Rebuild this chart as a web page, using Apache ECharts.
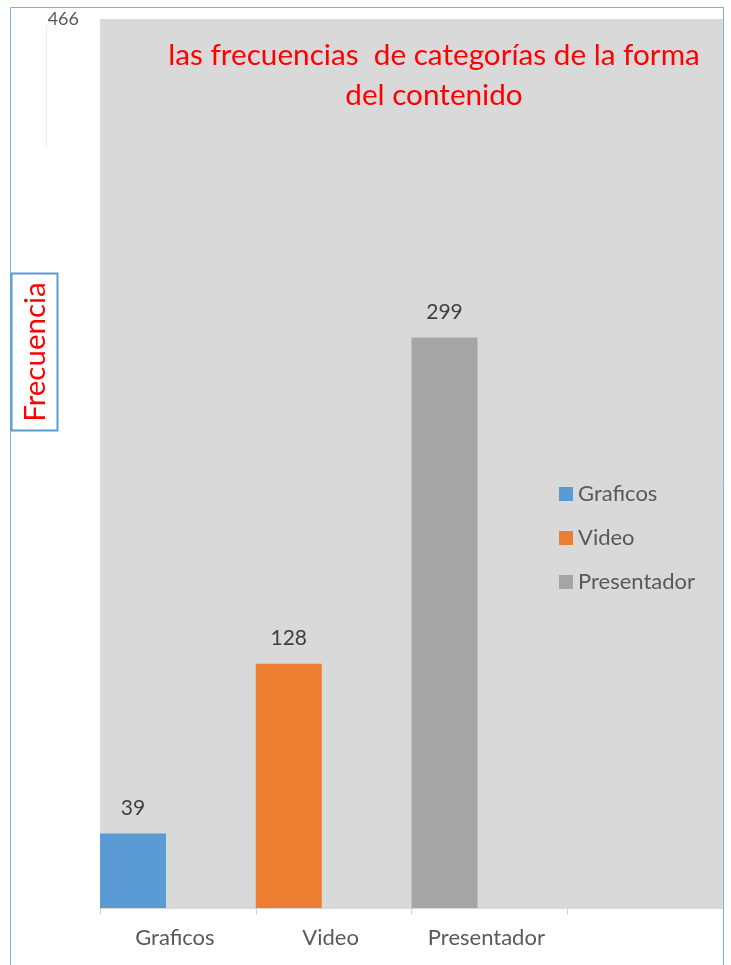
<!DOCTYPE html>
<html>
<head>
<meta charset="utf-8">
<script src="https://cdn.jsdelivr.net/npm/echarts@6/dist/echarts.min.js"></script>
<style>
html,body{margin:0;padding:0;background:#fff;}
#chart{width:731px;height:965px;}
</style>
</head>
<body>
<div id="chart"></div>
<script>
var categories = ['Graficos', 'Video', 'Presentador', ''];
var seriesNames = ['Graficos', 'Video', 'Presentador'];
var graficosValues = [39, '-', '-', '-'];
var videoValues = ['-', 128, '-', '-'];
var presentadorValues = ['-', '-', 299, '-'];
var yMax = 466;
var titleText = 'las frecuencias  de categorías de la forma\ndel contenido';
var yAxisTitle = 'Frecuencia';

var colors = ['#5b9bd5', '#ed7d31', '#a5a5a5'];
var font = 'Lato, "Open Sans", sans-serif';
var chart = echarts.init(document.getElementById('chart'), null, {renderer: 'canvas'});

function barSeries(name, data, color) {
  return {
    name: name, type: 'bar', stack: 'real', data: data,
    barWidth: 66, barGap: 0,
    itemStyle: {color: color},
    label: {show: true, position: 'top', distance: 15, color: '#404040', fontSize: 21, fontFamily: font}
  };
}

chart.setOption({
  backgroundColor: '#ffffff',
  animation: false,
  title: {
    text: titleText, left: 429, top: 30, textAlign: 'center',
    textStyle: {color: '#ff0000', fontSize: 29.7, fontWeight: 'normal', fontFamily: font, lineHeight: 40}
  },
  legend: {
    orient: 'vertical', left: 554, top: 478,
    itemWidth: 14, itemHeight: 14, itemGap: 22,
    data: seriesNames,
    textStyle: {color: '#595959', fontSize: 22, fontFamily: font, lineHeight: 22},
    icon: 'rect'
  },
  grid: {left: 100, right: 8, top: 19, bottom: 57, show: true, backgroundColor: '#d9d9d9', borderWidth: 0},
  xAxis: {
    type: 'category', data: categories, boundaryGap: true,
    axisLine: {show: true, lineStyle: {color: '#d9d9d9', width: 1}},
    axisTick: {show: true, length: 7, lineStyle: {color: '#d0d0d0'}},
    axisLabel: {color: '#595959', fontSize: 22, fontFamily: font, margin: 19, padding: [0, 6, 0, 0]}
  },
  yAxis: {
    type: 'value', min: 0, max: yMax, interval: yMax,
    splitLine: {show: false}, axisLine: {show: false}, axisTick: {show: false},
    axisLabel: {
      color: '#595959', fontSize: 18, fontFamily: font, margin: 21,
      formatter: function (v) { return v === yMax ? String(v) : ''; }
    }
  },
  graphic: [
    {type: 'rect', shape: {x: 10.5, y: 7.5, width: 713, height: 1000}, style: {fill: 'none', stroke: '#7fb0e0', lineWidth: 1}, z: 100},
    {type: 'line', shape: {x1: 46.5, y1: 25, x2: 46.5, y2: 148}, style: {stroke: '#eeeeee', lineWidth: 1}, z: 50},
    {type: 'rect', shape: {x: 11.5, y: 273.5, width: 46, height: 157}, style: {fill: '#ffffff', stroke: '#5b9bd5', lineWidth: 2}, z: 101},
    {type: 'text', x: 35, y: 352, rotation: Math.PI / 2, z: 102,
      style: {text: yAxisTitle, fill: '#ff0000', fontSize: 29.5, fontFamily: font, textAlign: 'center', textVerticalAlign: 'middle'}}
  ],
  series: [
    barSeries(seriesNames[0], graficosValues, colors[0]),
    barSeries(seriesNames[1], videoValues, colors[1]),
    barSeries(seriesNames[2], presentadorValues, colors[2]),
    {name: 'spacer', type: 'bar', stack: 'spacer', data: ['-', '-', '-', '-'], barWidth: 89.75, barGap: 0, silent: true, itemStyle: {color: 'rgba(0,0,0,0)'}}
  ]
});
</script>
</body>
</html>
